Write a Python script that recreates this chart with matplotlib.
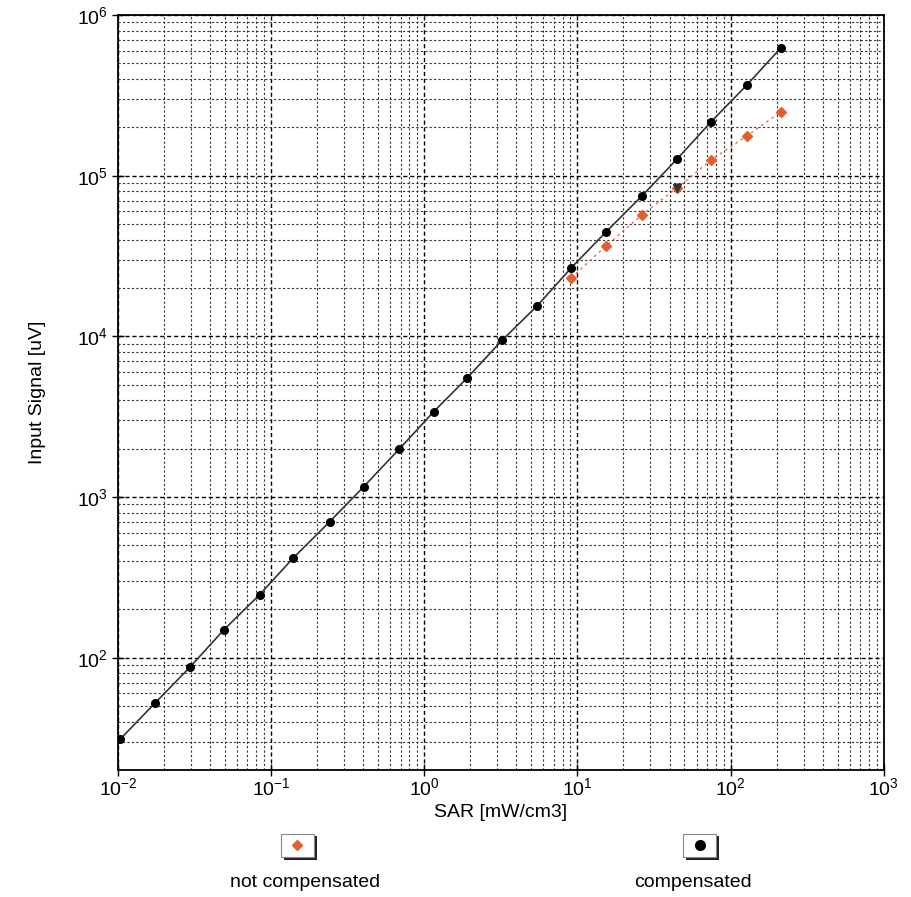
#!/usr/bin/env python3
"""SAR vs input signal, log-log, compensated / not compensated."""

import matplotlib
matplotlib.use("Agg")
import matplotlib.pyplot as plt
from matplotlib.lines import Line2D
from matplotlib.patches import Rectangle
from matplotlib.ticker import LogLocator, NullFormatter

plt.rcParams["font.family"] = ["Liberation Sans", "DejaVu Sans"]
plt.rcParams["axes.unicode_minus"] = False

# ── data ──────────────────────────────────────────────────────────────────
sar_comp = [0.0103, 0.0174, 0.0294, 0.0491, 0.0843, 0.140, 0.241, 0.402,
            0.689, 1.15, 1.91, 3.24, 5.47, 9.12, 15.4, 26.4, 44.8, 74.5,
            128, 213]
signal_comp = [31, 52, 87, 149, 247, 419, 701, 1158, 1995, 3388, 5520,
               9500, 15500, 26700, 44700, 74800, 127000, 216000, 367000,
               624000]

sar_nc = [9.12, 15.4, 26.4, 44.8, 74.5, 128, 213]
signal_nc = [23100, 36600, 57000, 84000, 125000, 177000, 249000]

legend_labels = ["not compensated", "compensated"]

RED = "#e06030"

# ── figure ────────────────────────────────────────────────────────────────
fig = plt.figure(figsize=(9.11, 8.97), dpi=100)
ax = fig.add_axes([0.1295, 0.1416, 0.8405, 0.8417])
ax.set_xscale("log")
ax.set_yscale("log")
ax.set_xlim(1e-2, 1e3)
ax.set_ylim(20, 1e6)

# dense dotted grid
ax.xaxis.set_minor_locator(LogLocator(base=10, subs=[2, 3, 4, 5, 6, 7, 8, 9]))
ax.yaxis.set_minor_locator(LogLocator(base=10, subs=[2, 3, 4, 5, 6, 7, 8, 9]))
ax.xaxis.set_minor_formatter(NullFormatter())
ax.yaxis.set_minor_formatter(NullFormatter())
ax.grid(True, which="major", color="black", linestyle=(0, (3, 2)), linewidth=1.0)
ax.grid(True, which="minor", color="#333333", linestyle=(0, (2, 2)), linewidth=0.8)
ax.set_axisbelow(True)

ax.tick_params(which="major", direction="inout", length=9, width=1.0,
               labelsize=14, pad=3)
ax.tick_params(axis="x", which="major", pad=1)
ax.tick_params(which="minor", length=0)
for s in ax.spines.values():
    s.set_linewidth(1.3)

# ── series ────────────────────────────────────────────────────────────────
ax.plot(sar_nc, signal_nc, color=RED, linestyle=(0, (2, 3)), linewidth=0.9,
        zorder=3)
ax.plot(sar_nc, signal_nc, linestyle="None", marker="D", markersize=5,
        color=RED, zorder=4)
# the 4th uncompensated point is drawn as a dark triangle in the reference
ax.plot(sar_nc[3], signal_nc[3], linestyle="None", marker="v", markersize=6,
        color="#333333", zorder=5)

ax.plot(sar_comp, signal_comp, color="#333333", linewidth=1.2, zorder=5)
ax.plot(sar_comp, signal_comp, linestyle="None", marker="o", markersize=5.5,
        color="black", zorder=6)

ax.set_xlabel("SAR [mW/cm3]", fontsize=14, labelpad=3)
ax.set_ylabel("Input Signal [uV]", fontsize=14, labelpad=22)

# ── custom legend boxes under the axis ────────────────────────────────────
for cx, tx, label, marker, color in [(0.3265, 0.335, legend_labels[0], "D", RED),
                                      (0.768, 0.761, legend_labels[1], "o", "black")]:
    w, h = 0.036, 0.026
    fig.patches.append(Rectangle((cx - w / 2 + 0.003, 0.0415), w, h,
                                 transform=fig.transFigure,
                                 facecolor="#222222", edgecolor="none"))
    fig.patches.append(Rectangle((cx - w / 2, 0.0445), w, h,
                                 transform=fig.transFigure,
                                 facecolor="white", edgecolor="#888888",
                                 linewidth=0.8))
    fig.lines.append(Line2D([cx], [0.0445 + h / 2], transform=fig.transFigure,
                            marker=marker, markersize=7 if marker == "o" else 5,
                            color=color, linestyle="None"))
    fig.text(tx, 0.0165, label, ha="center", va="center", fontsize=14)

fig.savefig("out.png", dpi=100)
